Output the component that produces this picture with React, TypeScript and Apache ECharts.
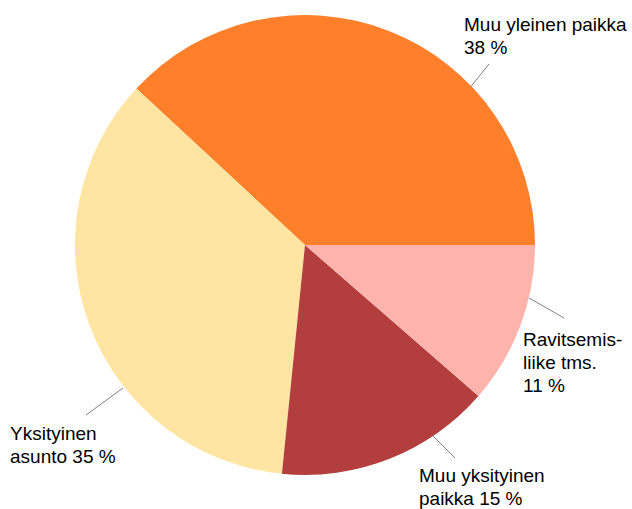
import React, { useEffect, useRef } from "react";
import * as echarts from "echarts";

const categories = ["Muu yleinen paikka", "Yksityinen asunto", "Muu yksityinen paikka", "Ravitsemisliike tms."];
const values = [38.1, 35.3, 15.2, 11.4];
const labelTexts = [
  "Muu yleinen paikka\n38 %",
  "Yksityinen\nasunto 35 %",
  "Muu yksityinen\npaikka 15 %",
  "Ravitsemis-\nliike tms.\n11 %",
];
const colors = ["#FF7F2A", "#FFE5A1", "#B33E3E", "#FFB3AB"];

// label text anchors (top-left) and leader line end points
const labelAnchors = [
  { x: 464, y: 13 },
  { x: 10, y: 422 },
  { x: 419, y: 464 },
  { x: 523, y: 328 },
];
const leaderLines = [
  [[469, 89], [489, 64]],
  [[123, 388], [86, 415]],
  [[432, 435], [455, 458]],
  [[529, 298], [564, 318]],
];

export default function App() {
  const ref = useRef<HTMLDivElement>(null);
  useEffect(() => {
    if (!ref.current) return;
    const chart = echarts.init(ref.current, undefined, { renderer: "svg" });
    chart.setOption({
      animation: false,
      backgroundColor: "#ffffff",
      series: [
        {
          type: "pie",
          center: [305, 245],
          radius: 230,
          startAngle: 0,
          clockwise: false,
          silent: true,
          data: categories.map((c, i) => ({
            name: c,
            value: values[i],
            itemStyle: { color: colors[i] },
          })),
          label: {
            show: true,
            formatter: (p: any) => labelTexts[p.dataIndex],
            fontFamily: "Liberation Sans, Arial, sans-serif",
            fontSize: 19,
            lineHeight: 23,
            color: "#000000",
            align: "left",
            overflow: "none",
          },
          labelLine: {
            show: true,
            length: 8,
            length2: 8,
            lineStyle: { color: "#808080", width: 1 },
          },
          labelLayout: (p: any) => ({
            x: labelAnchors[p.dataIndex].x,
            y: labelAnchors[p.dataIndex].y,
            align: "left",
            verticalAlign: "top",
            labelLinePoints: [
              leaderLines[p.dataIndex][0],
              leaderLines[p.dataIndex][1],
              leaderLines[p.dataIndex][1],
            ],
          }),
        },
      ],
    });
    return () => chart.dispose();
  }, []);
  return (
    <div
      ref={ref}
      style={{ position: "fixed", left: 0, top: 0, width: 632, height: 509 }}
    />
  );
}
